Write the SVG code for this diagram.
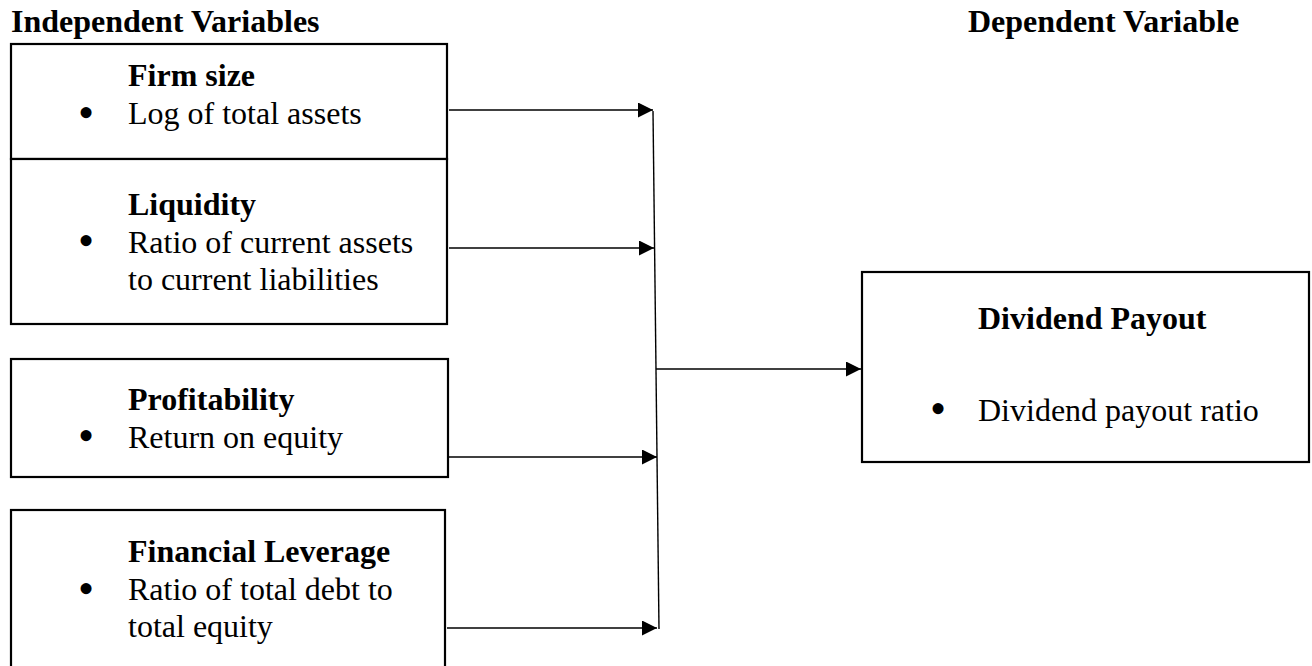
<svg xmlns="http://www.w3.org/2000/svg" width="1312" height="666" viewBox="0 0 1312 666">
<defs>
<style>
.box{fill:#fff;stroke:#000;stroke-width:2.2}
.t{font-family:"Liberation Serif","Times New Roman",serif;font-size:32px;fill:#000}
.b{font-weight:bold}
.bul{font-family:"Liberation Serif","Times New Roman",serif;font-size:46px;fill:#000;text-anchor:middle}
.c{stroke:#000;stroke-width:1.4;fill:none}
</style>
<marker id="ah" markerUnits="userSpaceOnUse" markerWidth="16" markerHeight="16" refX="15" refY="7.5" orient="auto">
<path d="M0,0 L15,7.5 L0,15 z" fill="#000"/>
</marker>
</defs>
<rect width="1312" height="666" fill="#fff"/>
<text class="t b" x="11" y="32">Independent Variables</text>
<text class="t b" x="968" y="32">Dependent Variable</text>
<g id="firm-size">
<rect class="box" x="11" y="44" width="436" height="115"/>
<text class="t b" x="128" y="86">Firm size</text>
<text class="bul" x="86" y="128">•</text>
<text class="t" x="128" y="124">Log of total assets</text>
</g>
<g id="liquidity">
<rect class="box" x="11" y="159" width="436" height="165"/>
<text class="t b" x="128" y="215">Liquidity</text>
<text class="bul" x="86" y="256">•</text>
<text class="t" x="128" y="253">Ratio of current assets</text>
<text class="t" x="128" y="290">to current liabilities</text>
</g>
<g id="profitability">
<rect class="box" x="11" y="359" width="437" height="118"/>
<text class="t b" x="128" y="410">Profitability</text>
<text class="bul" x="86" y="451">•</text>
<text class="t" x="128" y="448">Return on equity</text>
</g>
<g id="financial-leverage">
<rect class="box" x="11" y="510" width="434" height="180"/>
<text class="t b" x="128" y="562">Financial Leverage</text>
<text class="bul" x="86" y="604">•</text>
<text class="t" x="128" y="600">Ratio of total debt to</text>
<text class="t" x="128" y="637">total equity</text>
</g>
<g id="dividend-payout">
<rect class="box" x="862" y="272" width="447" height="190"/>
<text class="t b" x="978" y="329">Dividend Payout</text>
<text class="bul" x="938" y="424">•</text>
<text class="t" x="978" y="421">Dividend payout ratio</text>
</g>
<g id="connectors">
<line class="c" x1="449" y1="110" x2="653" y2="110" marker-end="url(#ah)"/>
<line class="c" x1="449" y1="248" x2="654" y2="248" marker-end="url(#ah)"/>
<line class="c" x1="449" y1="457" x2="657" y2="457" marker-end="url(#ah)"/>
<line class="c" x1="447" y1="628" x2="657" y2="628" marker-end="url(#ah)"/>
<line class="c" x1="653" y1="111" x2="659" y2="629"/>
<line class="c" x1="656" y1="369" x2="861" y2="369" marker-end="url(#ah)"/>
</g>
</svg>
